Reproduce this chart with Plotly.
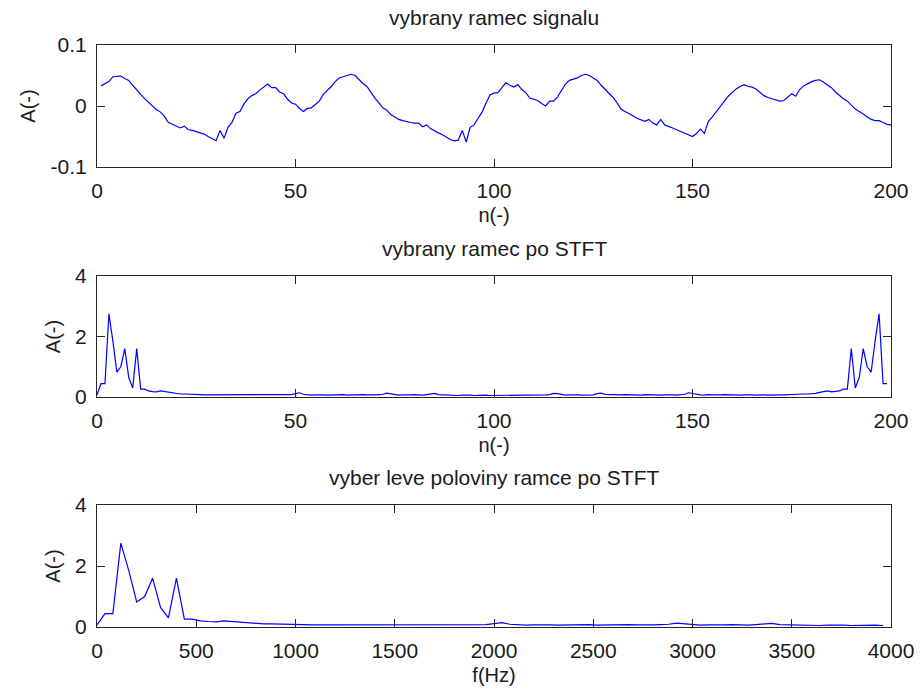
import plotly.graph_objects as go

# ---------------- data ----------------
n_signal = list(range(1, 201))
signal = [
    0.033, 0.036, 0.040, 0.048, 0.049, 0.049, 0.045, 0.042, 0.034, 0.026,
    0.019, 0.012, 0.006, 0.000, -0.006, -0.010, -0.017, -0.027, -0.030, -0.033,
    -0.036, -0.033, -0.039, -0.040, -0.042, -0.044, -0.046, -0.050, -0.054, -0.057,
    -0.040, -0.053, -0.035, -0.027, -0.012, -0.009, 0.003, 0.012, 0.017, 0.020,
    0.026, 0.031, 0.036, 0.030, 0.030, 0.023, 0.020, 0.011, 0.005, 0.003,
    -0.004, -0.009, -0.004, -0.003, 0.002, 0.008, 0.019, 0.025, 0.032, 0.040,
    0.046, 0.048, 0.050, 0.052, 0.050, 0.043, 0.037, 0.032, 0.022, 0.013,
    0.005, -0.003, -0.007, -0.014, -0.018, -0.022, -0.024, -0.026, -0.027, -0.028,
    -0.028, -0.034, -0.031, -0.037, -0.041, -0.044, -0.047, -0.051, -0.055, -0.057,
    -0.056, -0.040, -0.059, -0.035, -0.031, -0.020, -0.010, 0.005, 0.018, 0.021,
    0.022, 0.030, 0.038, 0.034, 0.031, 0.035, 0.027, 0.022, 0.013, 0.011,
    0.009, 0.004, 0.000, 0.008, 0.008, 0.015, 0.026, 0.036, 0.042, 0.044,
    0.046, 0.050, 0.052, 0.050, 0.046, 0.042, 0.034, 0.027, 0.021, 0.014,
    0.005, -0.005, -0.009, -0.012, -0.016, -0.020, -0.023, -0.025, -0.022, -0.028,
    -0.031, -0.022, -0.031, -0.033, -0.036, -0.039, -0.042, -0.045, -0.048, -0.050,
    -0.045, -0.038, -0.045, -0.025, -0.018, -0.009, -0.001, 0.008, 0.016, 0.022,
    0.028, 0.032, 0.035, 0.032, 0.031, 0.028, 0.023, 0.017, 0.014, 0.012,
    0.009, 0.008, 0.009, 0.015, 0.020, 0.016, 0.027, 0.033, 0.037, 0.040,
    0.042, 0.043, 0.039, 0.035, 0.030, 0.023, 0.017, 0.012, 0.008, 0.001,
    -0.005, -0.009, -0.013, -0.017, -0.022, -0.024, -0.024, -0.027, -0.030, -0.031,
]

n_stft = list(range(0, 200))
stft_full = [
    0.07, 0.44, 0.44, 2.75, 1.85, 0.82, 1.00, 1.60, 0.64, 0.30,
    1.60, 0.26, 0.26, 0.20, 0.18, 0.17, 0.20, 0.18, 0.15, 0.12,
    0.10, 0.10, 0.10, 0.10, 0.09, 0.08, 0.08, 0.07, 0.07, 0.08,
    0.07, 0.06, 0.07, 0.07, 0.06, 0.07, 0.08, 0.07, 0.06, 0.07,
    0.06, 0.07, 0.08, 0.07, 0.06, 0.07, 0.08, 0.06, 0.07, 0.08,
    0.11, 0.14, 0.09, 0.07, 0.06, 0.07, 0.08, 0.07, 0.06, 0.07,
    0.06, 0.07, 0.08, 0.06, 0.07, 0.06, 0.07, 0.08, 0.07, 0.06,
    0.07, 0.08, 0.09, 0.13, 0.11, 0.07, 0.06, 0.07, 0.06, 0.07,
    0.08, 0.07, 0.06, 0.08, 0.11, 0.12, 0.08, 0.07, 0.06, 0.07,
    0.06, 0.05, 0.06, 0.07, 0.06, 0.05, 0.06, 0.05, 0.06, 0.05,
    0.05, 0.05, 0.06, 0.05, 0.06, 0.05, 0.06, 0.07, 0.06, 0.05,
    0.06, 0.07, 0.06, 0.07, 0.08, 0.12, 0.11, 0.08, 0.06, 0.07,
    0.08, 0.07, 0.06, 0.07, 0.06, 0.07, 0.11, 0.13, 0.09, 0.08,
    0.07, 0.06, 0.07, 0.08, 0.07, 0.06, 0.07, 0.06, 0.08, 0.07,
    0.06, 0.07, 0.06, 0.07, 0.08, 0.07, 0.06, 0.07, 0.09, 0.14,
    0.11, 0.08, 0.07, 0.06, 0.08, 0.07, 0.06, 0.07, 0.08, 0.07,
    0.06, 0.07, 0.06, 0.07, 0.08, 0.07, 0.06, 0.07, 0.07, 0.06,
    0.07, 0.08, 0.07, 0.07, 0.08, 0.08, 0.09, 0.10, 0.10, 0.10,
    0.10, 0.12, 0.15, 0.18, 0.20, 0.17, 0.18, 0.20, 0.26, 0.26,
    1.60, 0.30, 0.64, 1.60, 1.00, 0.82, 1.85, 2.75, 0.44, 0.44,
]

freq_hz = [40 * k for k in range(100)]
stft_half = [
    0.07, 0.44, 0.44, 2.75, 1.85, 0.82, 1.00, 1.60, 0.64, 0.30,
    1.60, 0.26, 0.26, 0.20, 0.18, 0.17, 0.20, 0.18, 0.15, 0.12,
    0.10, 0.10, 0.10, 0.10, 0.09, 0.08, 0.08, 0.07, 0.07, 0.08,
    0.07, 0.06, 0.07, 0.07, 0.06, 0.07, 0.08, 0.07, 0.06, 0.07,
    0.06, 0.07, 0.08, 0.07, 0.06, 0.07, 0.08, 0.06, 0.07, 0.08,
    0.11, 0.14, 0.09, 0.07, 0.06, 0.07, 0.08, 0.07, 0.06, 0.07,
    0.06, 0.07, 0.08, 0.06, 0.07, 0.06, 0.07, 0.08, 0.07, 0.06,
    0.07, 0.08, 0.09, 0.13, 0.11, 0.07, 0.06, 0.07, 0.06, 0.07,
    0.08, 0.07, 0.06, 0.08, 0.11, 0.12, 0.08, 0.07, 0.06, 0.07,
    0.06, 0.05, 0.06, 0.07, 0.06, 0.05, 0.06, 0.05, 0.06, 0.05,
]

titles = ["vybrany ramec signalu", "vybrany ramec po STFT", "vyber leve poloviny ramce po STFT"]
xlabels = ["n(-)", "n(-)", "f(Hz)"]
ylabel = "A(-)"

# ---------------- figure ----------------
W, H = 921, 693
FONT = "Liberation Sans, Arial, sans-serif"
TXT = "#1a1a1a"
FS = 20
xdom = [97 / W, 891 / W]
ydoms = [
    [(H - 167) / H, (H - 45) / H],
    [(H - 397) / H, (H - 276) / H],
    [(H - 627) / H, (H - 505) / H],
]

fig = go.Figure()
line = dict(color="#0000FF", width=1.2)
fig.add_trace(go.Scatter(x=n_signal, y=signal, mode="lines", line=line, xaxis="x", yaxis="y", showlegend=False))
fig.add_trace(go.Scatter(x=n_stft, y=stft_full, mode="lines", line=line, xaxis="x2", yaxis="y2", showlegend=False))
fig.add_trace(go.Scatter(x=freq_hz, y=stft_half, mode="lines", line=line, xaxis="x3", yaxis="y3", showlegend=False))

common = dict(
    showline=True, linecolor="#262626", linewidth=1, mirror="ticks",
    ticks="inside", ticklen=8, tickwidth=1, tickcolor="#262626",
    showgrid=False, zeroline=False, automargin=False,
    tickfont=dict(family=FONT, size=21, color=TXT),
    ticklabelstandoff=5,
)

xranges = [[0, 200], [0, 200], [0, 4000]]
xticks = [[0, 50, 100, 150, 200], [0, 50, 100, 150, 200], list(range(0, 4001, 500))]
yranges = [[-0.1, 0.1], [0, 4], [0, 4]]
yticks = [[-0.1, 0, 0.1], [0, 2, 4], [0, 2, 4]]
yticktext = [["-0.1", "0", "0.1"], ["0", "2", "4"], ["0", "2", "4"]]

layout = dict(
    width=W, height=H, autosize=False, margin=dict(l=0, r=0, t=0, b=0, pad=0),
    paper_bgcolor="white", plot_bgcolor="white",
    font=dict(family=FONT, size=FS, color=TXT),
    showlegend=False,
)
annotations = []
for i in range(3):
    sx = "" if i == 0 else str(i + 1)
    layout["xaxis" + sx] = dict(
        common, domain=xdom, range=xranges[i], tickvals=xticks[i],
        anchor="y" + sx,
        title=dict(text=xlabels[i], font=dict(family=FONT, size=FS, color=TXT), standoff=6),
    )
    layout["yaxis" + sx] = dict(
        common, domain=ydoms[i], range=yranges[i], tickvals=yticks[i],
        ticktext=yticktext[i], anchor="x" + sx,
        title=dict(text=ylabel, font=dict(family=FONT, size=FS, color=TXT), standoff=9),
    )
    annotations.append(dict(
        text=titles[i], x=(xdom[0] + xdom[1]) / 2, y=ydoms[i][1],
        xref="paper", yref="paper", xanchor="center", yanchor="bottom",
        yshift=14, showarrow=False, font=dict(family=FONT, size=21, color=TXT),
    ))
layout["annotations"] = annotations
fig.update_layout(**layout)

fig.write_html("out.html", config={"responsive": False})
